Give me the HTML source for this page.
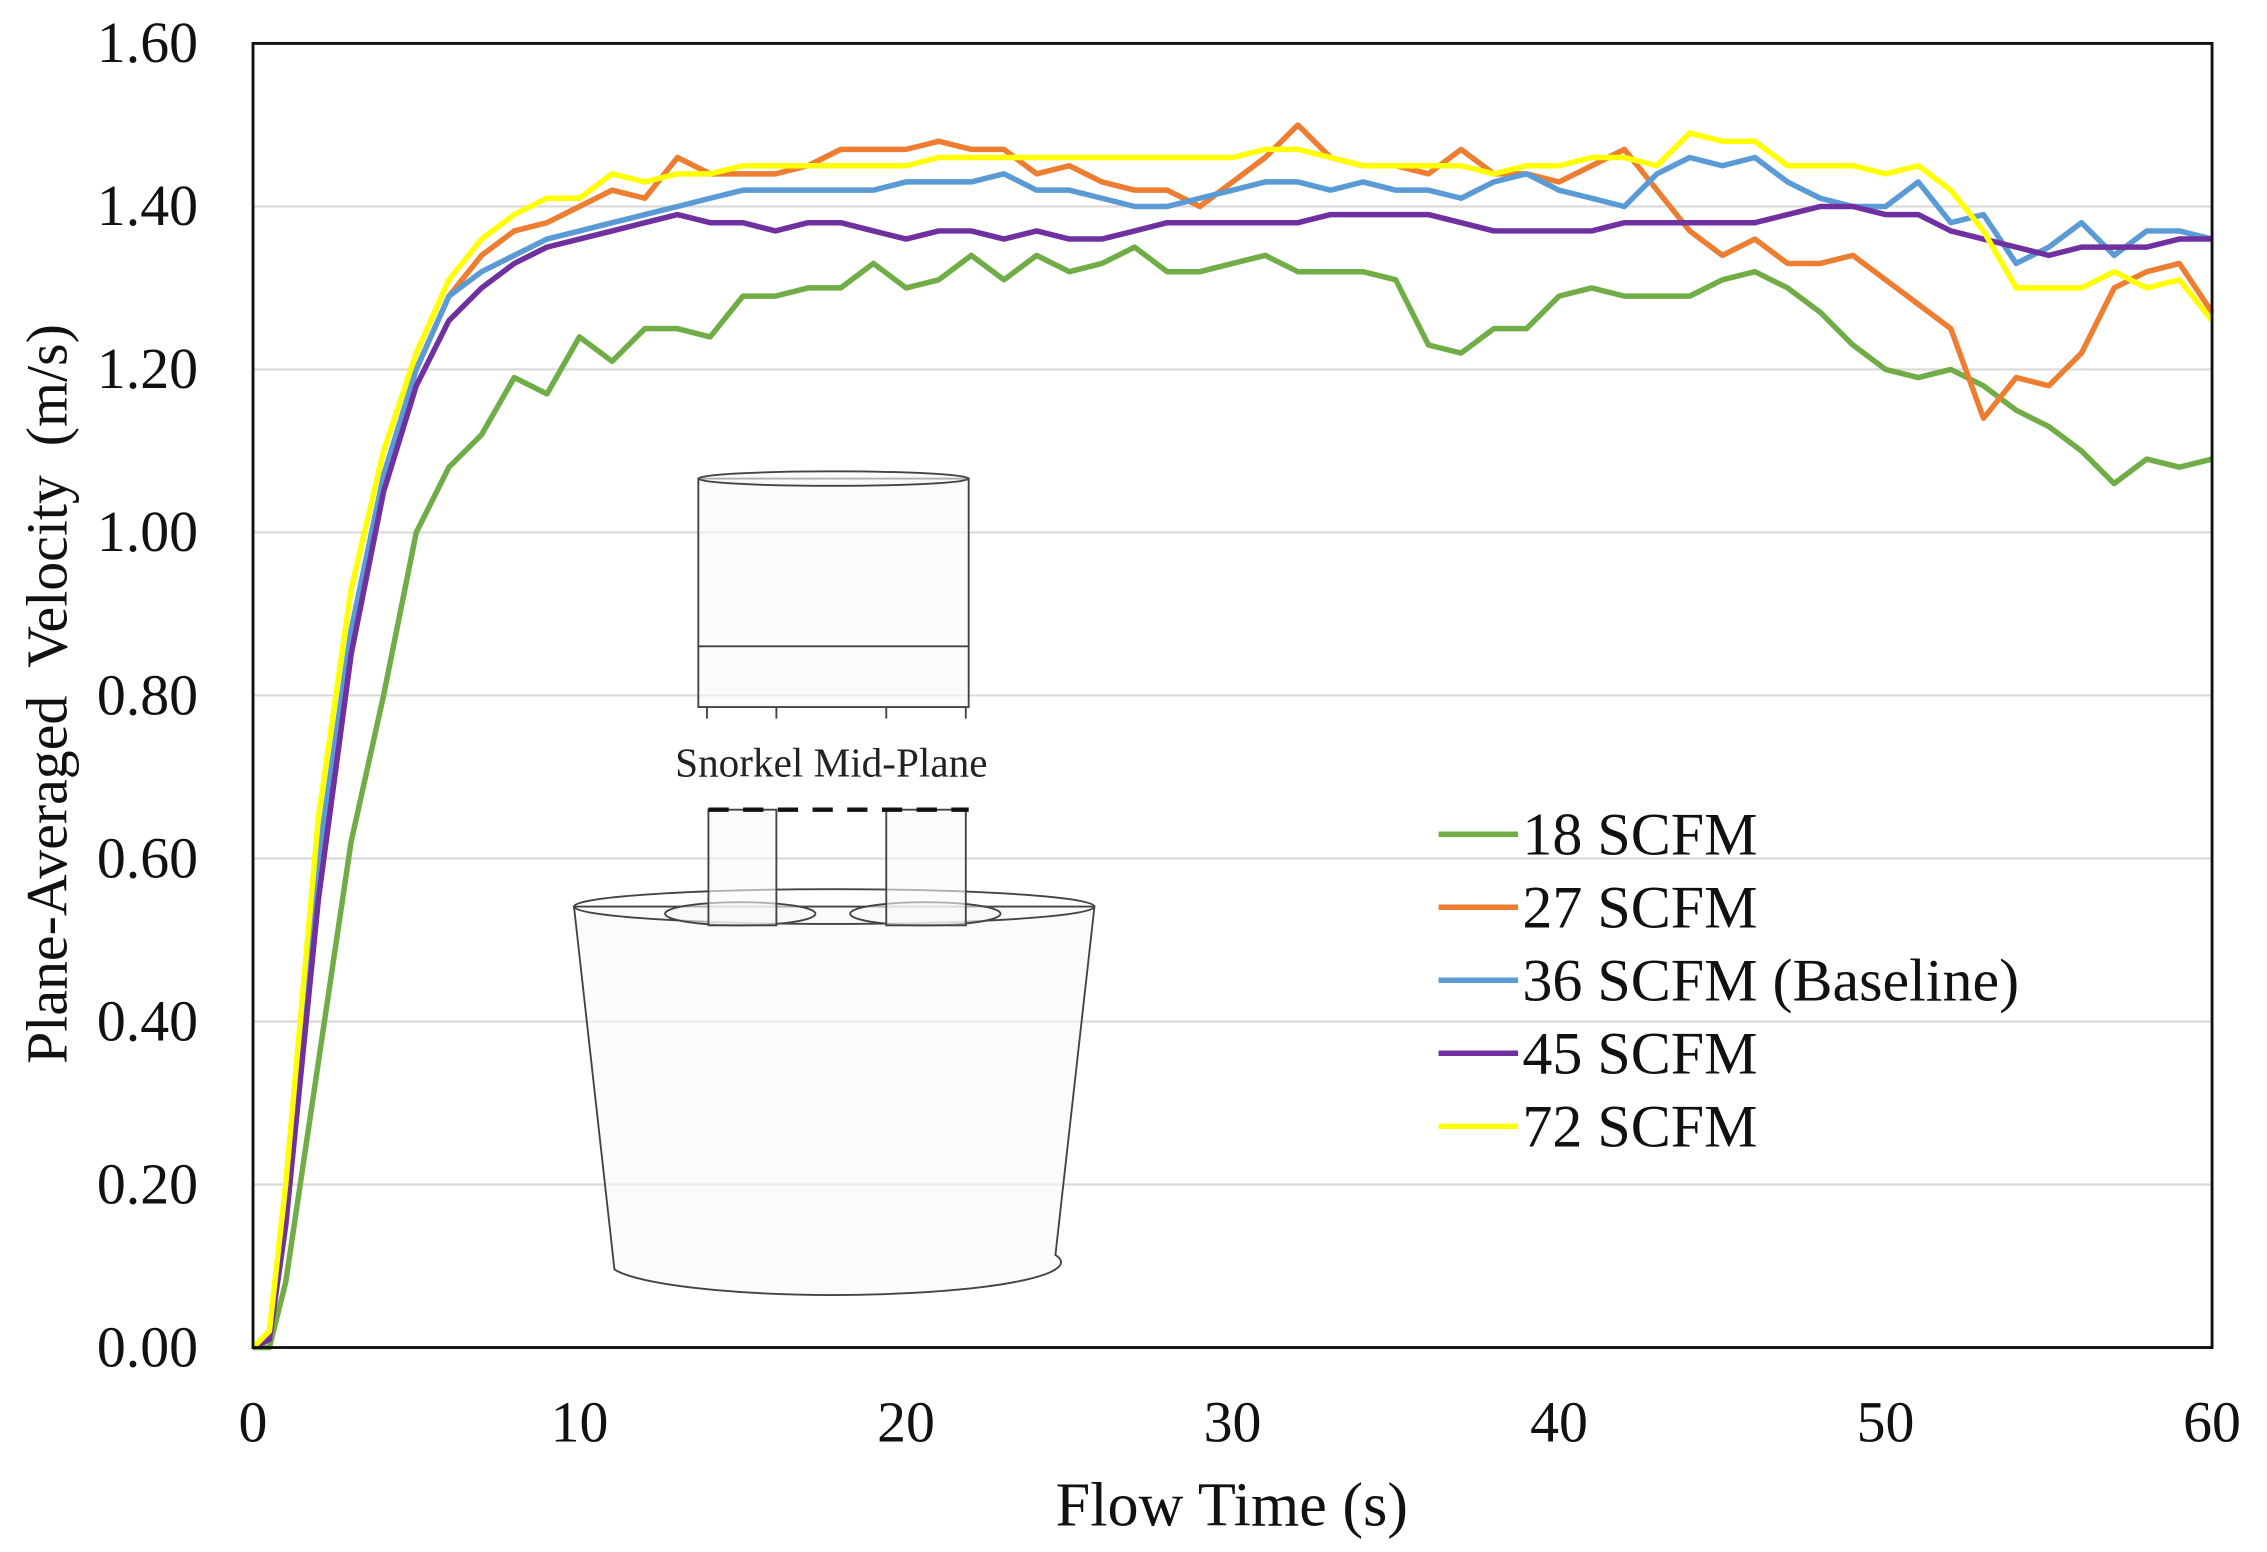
<!DOCTYPE html>
<html><head><meta charset="utf-8"><style>
html,body{margin:0;padding:0;background:#fff;}
svg{display:block;font-family:"Liberation Serif","Times New Roman",serif;}
</style></head><body>
<svg id="chart" width="2267" height="1552" viewBox="0 0 1568 1073.4" xmlns="http://www.w3.org/2000/svg">
<rect x="0" y="0" width="1568" height="1073.4" fill="#fff"/>
<g id="grid"></g>
<g id="inset" stroke="#444" stroke-width="1.3" fill="#f8f8f8" fill-opacity="0.6">
  <path d="M397,627 L425,878 A152,22 0 0 0 730,868 L757,627 Z"/>
  <ellipse cx="577" cy="627" rx="180" ry="12" fill="none"/>
  <ellipse cx="512" cy="632" rx="52" ry="8"/>
  <ellipse cx="640" cy="632" rx="52" ry="8"/>
  <rect x="490" y="560" width="47" height="80"/>
  <rect x="613" y="560" width="55" height="80"/>
  <rect x="483" y="331" width="187" height="158"/>
  <ellipse cx="576.5" cy="331" rx="93.5" ry="5"/>
  <line x1="483" y1="447" x2="670" y2="447"/>
  <path d="M489,489 V497 M537,489 V497 M613,489 V497 M668,489 V497" fill="none"/>
  <line x1="490" y1="560" x2="670" y2="560" stroke="#111" stroke-width="3" stroke-dasharray="14,10"/>
  <text x="575" y="537" text-anchor="middle" font-size="28.5" fill="#222" stroke="none" fill-opacity="1">Snorkel Mid-Plane</text>
</g>
<g id="series"></g>
<rect x="175" y="30" width="1355" height="902" fill="none" stroke="#111" stroke-width="2"/>
<g id="yticks" font-size="40" fill="#111" text-anchor="end"></g>
<g id="xticks" font-size="40" fill="#111" text-anchor="middle"></g>
<text x="852" y="1055" font-size="43" text-anchor="middle" fill="#111">Flow Time (s)</text>
<text transform="translate(46,480) rotate(-90)" font-size="40" text-anchor="middle" fill="#111" xml:space="preserve">Plane-Averaged  Velocity  (m/s)</text>
<g id="legend" font-size="41.5" fill="#111"></g>
</svg>
<script>
const times = [0,0.5,1,2,3,4,5,6,7,8,9,10,11,12,13,14,15,16,17,18,19,20,21,22,23,24,25,26,27,28,29,30,31,32,33,34,35,36,37,38,39,40,41,42,43,44,45,46,47,48,49,50,51,52,53,54,55,56,57,58,59,60];
const s18 = [0,0.0,0.08,0.35,0.62,0.8,1.0,1.08,1.12,1.19,1.17,1.24,1.21,1.25,1.25,1.24,1.29,1.29,1.3,1.3,1.33,1.30,1.31,1.34,1.31,1.34,1.32,1.33,1.35,1.32,1.32,1.33,1.34,1.32,1.32,1.32,1.31,1.23,1.22,1.25,1.25,1.29,1.30,1.29,1.29,1.29,1.31,1.32,1.30,1.27,1.23,1.20,1.19,1.20,1.18,1.15,1.13,1.10,1.06,1.09,1.08,1.09];
const s27 = [0,0.01,0.15,0.55,0.85,1.07,1.2,1.29,1.34,1.37,1.38,1.40,1.42,1.41,1.46,1.44,1.44,1.44,1.45,1.47,1.47,1.47,1.48,1.47,1.47,1.44,1.45,1.43,1.42,1.42,1.40,1.43,1.46,1.50,1.46,1.45,1.45,1.44,1.47,1.44,1.44,1.43,1.45,1.47,1.42,1.37,1.34,1.36,1.33,1.33,1.34,1.31,1.28,1.25,1.14,1.19,1.18,1.22,1.30,1.32,1.33,1.27];
const s36 = [0,0.01,0.18,0.6,0.88,1.07,1.2,1.29,1.32,1.34,1.36,1.37,1.38,1.39,1.40,1.41,1.42,1.42,1.42,1.42,1.42,1.43,1.43,1.43,1.44,1.42,1.42,1.41,1.40,1.40,1.41,1.42,1.43,1.43,1.42,1.43,1.42,1.42,1.41,1.43,1.44,1.42,1.41,1.40,1.44,1.46,1.45,1.46,1.43,1.41,1.40,1.40,1.43,1.38,1.39,1.33,1.35,1.38,1.34,1.37,1.37,1.36];
const s45 = [0,0.01,0.15,0.55,0.85,1.05,1.18,1.26,1.30,1.33,1.35,1.36,1.37,1.38,1.39,1.38,1.38,1.37,1.38,1.38,1.37,1.36,1.37,1.37,1.36,1.37,1.36,1.36,1.37,1.38,1.38,1.38,1.38,1.38,1.39,1.39,1.39,1.39,1.38,1.37,1.37,1.37,1.37,1.38,1.38,1.38,1.38,1.38,1.39,1.40,1.40,1.39,1.39,1.37,1.36,1.35,1.34,1.35,1.35,1.35,1.36,1.36];
const s72 = [0,0.02,0.2,0.65,0.93,1.1,1.22,1.31,1.36,1.39,1.41,1.41,1.44,1.43,1.44,1.44,1.45,1.45,1.45,1.45,1.45,1.45,1.46,1.46,1.46,1.46,1.46,1.46,1.46,1.46,1.46,1.46,1.47,1.47,1.46,1.45,1.45,1.45,1.45,1.44,1.45,1.45,1.46,1.46,1.45,1.49,1.48,1.48,1.45,1.45,1.45,1.44,1.45,1.42,1.37,1.30,1.30,1.30,1.32,1.30,1.31,1.26];
const seriesNames = ["18 SCFM","27 SCFM","36 SCFM (Baseline)","45 SCFM","72 SCFM"];
const seriesColors = ["#70ad47","#ed7d31","#5b9bd5","#7030a0","#ffff00"];
const yTickLabels = ["0.00","0.20","0.40","0.60","0.80","1.00","1.20","1.40","1.60"];
const xTickLabels = ["0","10","20","30","40","50","60"];

const NS="http://www.w3.org/2000/svg";
const L=175,R=1530,T=30,B=932;
const xs=t=>L+(t/60)*(R-L);
const ys=v=>B-(v/1.6)*(B-T);
function mk(tag,attrs,parent){const e=document.createElementNS(NS,tag);for(const k in attrs)e.setAttribute(k,attrs[k]);parent.appendChild(e);return e;}

const grid=document.getElementById('grid'), yt=document.getElementById('yticks'), xt=document.getElementById('xticks');
yTickLabels.forEach(lbl=>{
  const v=parseFloat(lbl);
  if(v>0&&v<1.6){
    const g=mk('line',{x1:L,x2:R,y1:ys(v),y2:ys(v),stroke:'#d9d9d9','stroke-width':1.5},grid);
    
    
  }
  const t=mk('text',{x:137,y:ys(v)+13},yt);
  t.textContent=lbl;
  
  
});
xTickLabels.forEach(lbl=>{
  const t=mk('text',{x:xs(parseFloat(lbl)),y:997},xt);
  t.textContent=lbl;
  
  
});

const all=[s18,s27,s36,s45,s72];
const sg=document.getElementById('series');
all.forEach((arr,i)=>{
  const d=arr.map((v,j)=>(j?'L':'M')+xs(times[j]).toFixed(1)+','+ys(v).toFixed(1)).join(' ');
  const p=mk('path',{d:d,fill:'none',stroke:seriesColors[i],'stroke-width':3.8,'stroke-linejoin':'round'},sg);
  
  
});

const lg=document.getElementById('legend');
seriesNames.forEach((n,i)=>{
  const y=577+i*50.5;
  const ln=mk('line',{x1:995,x2:1050,y1:y,y2:y,stroke:seriesColors[i],'stroke-width':3.8},lg);
  
  
  const t=mk('text',{x:1053,y:y+14},lg);
  t.textContent=n;
  
  
});
</script>
</body></html>
